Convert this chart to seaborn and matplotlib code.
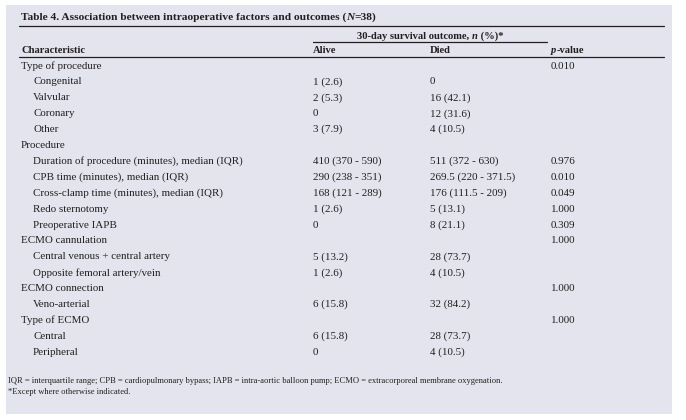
import numpy as np
import pandas as pd
import seaborn as sns
import matplotlib
matplotlib.use("Agg")
import matplotlib.pyplot as plt

row_labels = ["Type of procedure", "Congenital", "Valvular", "Coronary", "Other",
              "Procedure", "Duration of procedure (minutes), median (IQR)",
              "CPB time (minutes), median (IQR)", "Cross-clamp time (minutes), median (IQR)",
              "Redo sternotomy", "Preoperative IAPB",
              "ECMO cannulation", "Central venous + central artery", "Opposite femoral artery/vein",
              "ECMO connection", "Veno-arterial",
              "Type of ECMO", "Central", "Peripheral"]
row_indent = [0, 1, 1, 1, 1, 0, 1, 1, 1, 1, 1, 0, 1, 1, 0, 1, 0, 1, 1]
alive = ["", "1 (2.6)", "2 (5.3)", "0", "3 (7.9)", "", "410 (370 - 590)", "290 (238 - 351)",
         "168 (121 - 289)", "1 (2.6)", "0", "", "5 (13.2)", "1 (2.6)", "", "6 (15.8)", "",
         "6 (15.8)", "0"]
died = ["", "0", "16 (42.1)", "12 (31.6)", "4 (10.5)", "", "511 (372 - 630)", "269.5 (220 - 371.5)",
        "176 (111.5 - 209)", "5 (13.1)", "8 (21.1)", "", "28 (73.7)", "4 (10.5)", "", "32 (84.2)", "",
        "28 (73.7)", "4 (10.5)"]
p_values = ["0.010", "", "", "", "", "", "0.976", "0.010", "0.049", "1.000", "0.309", "1.000", "",
            "", "1.000", "", "1.000", "", ""]

footnotes = ["IQR = interquartile range; CPB = cardiopulmonary bypass; IAPB = intra-aortic balloon pump; "
             "ECMO = extracorporeal membrane oxygenation.",
             "*Except where otherwise indicated."]

tabela = pd.DataFrame({"label": row_labels, "indent": row_indent,
                       "alive": alive, "died": died, "p": p_values})

sns.set_theme(style="white")
plt.rcParams["font.family"] = ["Liberation Serif", "DejaVu Serif"]

COR_TEXTO = "#231f20"
COR_FUNDO = "#e3e4ed"
FS = 7.9

# colunas (em pixels da figura)
X_NOTA = 8
X_CARAC = 21
X_INDENT = 33
X_ALIVE = 313
X_DIED = 430
X_P = 551
X_LINHA0 = 19
X_FIM = 664


def escreveTrechos(ax, x, y, trechos, size):
    """Escreve varios trechos de texto em sequencia na mesma linha."""
    anterior = None
    for texto, estilo, peso in trechos:
        if anterior is None:
            anterior = ax.text(x, y, texto, fontsize=size, style=estilo, weight=peso,
                               color=COR_TEXTO, ha="left", va="center")
        else:
            anterior = ax.annotate(texto, xy=(1, 0), xycoords=anterior, fontsize=size,
                                   style=estilo, weight=peso, color=COR_TEXTO,
                                   ha="left", va="bottom")
    return anterior


fig = plt.figure(figsize=(6.86, 4.2), dpi=100)
ax = fig.add_axes([6 / 686, 6 / 420, 666 / 686, 409 / 420])
ax.set_facecolor(COR_FUNDO)
ax.set_xlim(6, 672)
ax.set_ylim(414, 5)
ax.set_xticks([])
ax.set_yticks([])
for s in ax.spines.values():
    s.set_visible(False)

# titulo
escreveTrechos(ax, X_CARAC, 17, [("Table 4. Association between intraoperative factors and outcomes (", "normal", "bold"),
                                 ("N", "italic", "bold"), ("=38)", "normal", "bold")], 8.2)
ax.plot([X_LINHA0, X_FIM], [26, 26], color=COR_TEXTO, lw=0.9)

# cabecalho
escreveTrechos(ax, 357, 36, [("30-day survival outcome, ", "normal", "bold"),
                             ("n", "italic", "bold"), (" (%)*", "normal", "bold")], 7.6)
ax.plot([X_ALIVE, 547], [42, 42], color=COR_TEXTO, lw=0.9)
ax.text(X_CARAC, 50, "Characteristic", fontsize=7.6, weight="bold", color=COR_TEXTO, va="center")
ax.text(X_ALIVE, 50, "Alive", fontsize=7.6, weight="bold", color=COR_TEXTO, va="center")
ax.text(X_DIED, 50, "Died", fontsize=7.6, weight="bold", color=COR_TEXTO, va="center")
escreveTrechos(ax, X_P, 50, [("p", "italic", "bold"), ("-value", "normal", "bold")], 7.6)
ax.plot([X_LINHA0, X_FIM], [57, 57], color=COR_TEXTO, lw=0.9)

# linhas da tabela
Y0, PASSO = 66, 15.9
for i, linha in tabela.iterrows():
    y = Y0 + i * PASSO
    x = X_INDENT if linha["indent"] else X_CARAC
    ax.text(x, y, linha["label"], fontsize=FS, color=COR_TEXTO, va="center")
    ax.text(X_ALIVE, y, linha["alive"], fontsize=FS, color=COR_TEXTO, va="center")
    ax.text(X_DIED, y, linha["died"], fontsize=FS, color=COR_TEXTO, va="center")
    ax.text(X_P, y, linha["p"], fontsize=FS, color=COR_TEXTO, va="center")

# notas de rodape
for j, nota in enumerate(footnotes):
    ax.text(X_NOTA, 381 + j * 11, nota, fontsize=6.1, color=COR_TEXTO, va="center")

fig.savefig("out.png", dpi=100, facecolor="white")
